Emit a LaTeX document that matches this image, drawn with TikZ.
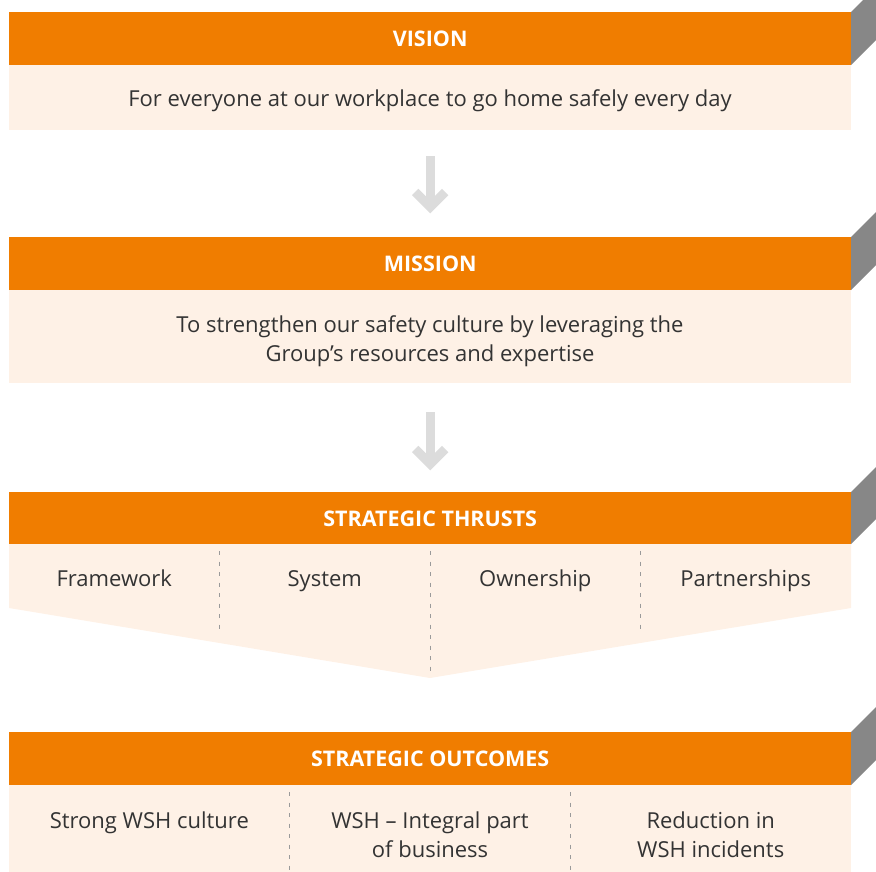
\documentclass[tikz,border=0pt]{standalone}
\usepackage{fontspec}
\setmainfont{Open Sans}
\usepackage{tikz}
\usetikzlibrary{positioning, arrows.meta}
\definecolor{wshorange}{HTML}{F07D00}
\definecolor{wshcream}{HTML}{FEF1E6}
\definecolor{wshside}{HTML}{878787}
\definecolor{wsharrow}{HTML}{DCDCDC}
\definecolor{wshtext}{HTML}{333333}
\definecolor{wshdash}{HTML}{9A9A9A}
\tikzstyle{head} = [rectangle, anchor=north west, minimum width=842pt, 
minimum height=53pt, inner sep=0pt, fill=wshorange, text=white, 
font=\bfseries\fontsize{21.5}{25}\selectfont]
\tikzstyle{body} = [rectangle, anchor=north west, minimum width=842pt, 
inner sep=0pt, fill=wshcream]
\tikzstyle{label} = [anchor=base, inner sep=0pt, text=wshtext, align=center, 
font=\fontsize{22}{29}\selectfont]
\tikzstyle{flow} = [line width=9pt, draw=wsharrow]
\tikzstyle{chevron} = [line width=9pt, draw=wsharrow, miter limit=4]
\tikzstyle{divider} = [wshdash, line width=0.9pt, dash pattern=on 4pt off 6.5pt]

\begin{document}
\begin{tikzpicture}[x=1pt, y=-1pt]
\useasboundingbox (0,0) rectangle (876,872);
% grey edges on the right of the headers
\begin{scope}
\clip (0,0) rectangle (876,872);
\fill[wshside] (851,12) -- (886,-23) -- (886,30) -- (851,65) -- cycle;
\fill[wshside] (851,237) -- (886,202) -- (886,255) -- (851,290) -- cycle;
\fill[wshside] (851,492) -- (886,457) -- (886,509) -- (851,544) -- cycle;
\fill[wshside] (851,732) -- (886,697) -- (886,750) -- (851,785) -- cycle;
\end{scope}

% vision
\node[head] (vision) at (9,12) {VISION};
\node[body, minimum height=65pt] (visiontext) at (9,65) {};
\node[label] (visionlabel) at (430,107) 
{For everyone at our workplace to go home safely every day};

% mission (base of a two-line label is its last line)
\node[head] (mission) at (9,237) {MISSION};
\node[body, minimum height=93pt] (missiontext) at (9,290) {};
\node[label] (missionlabel) at (430,361) 
{To strengthen our safety culture by leveraging the\\Group’s resources and expertise};

% strategic thrusts
\node[head] (thrusts) at (9,492) {STRATEGIC THRUSTS};
\fill[wshcream] (9,544) -- (851,544) -- (851,608) -- (430,678) -- (9,608) -- cycle;
\node[label] (framework) at (114.25,586) {Framework};
\node[label] (system) at (324.75,586) {System};
\node[label] (ownership) at (535.25,586) {Ownership};
\node[label] (partnerships) at (745.75,586) {Partnerships};
\draw[divider] (219.5,551) -- (219.5,634);
\draw[divider] (430,551) -- (430,673);
\draw[divider] (640.5,551) -- (640.5,634);

% strategic outcomes
\node[head] (outcomes) at (9,732) {STRATEGIC OUTCOMES};
\node[body, minimum height=95pt] (outcomestext) at (9,785) {};
\node[label] (culture) at (149.3,828) {Strong WSH culture};
\node[label] (integral) at (430,857) {WSH – Integral part\\of business};
\node[label] (reduction) at (710.7,857) {Reduction in\\WSH incidents};
\draw[divider] (289.7,792) -- (289.7,876);
\draw[divider] (570.3,792) -- (570.3,876);

% arrows between the stages
\coordinate (tipa) at ([yshift=30pt]mission.north);
\coordinate (tipb) at ([yshift=28pt]thrusts.north);
\draw[flow] ([yshift=-26pt]visiontext.south) -- ([yshift=6pt]tipa);
\draw[chevron] ([xshift=-15pt,yshift=15pt]tipa) -- (tipa) -- ([xshift=15pt,yshift=15pt]tipa);
\draw[flow] ([yshift=-29pt]missiontext.south) -- ([yshift=6pt]tipb);
\draw[chevron] ([xshift=-15pt,yshift=15pt]tipb) -- (tipb) -- ([xshift=15pt,yshift=15pt]tipb);
\end{tikzpicture}
\end{document}
